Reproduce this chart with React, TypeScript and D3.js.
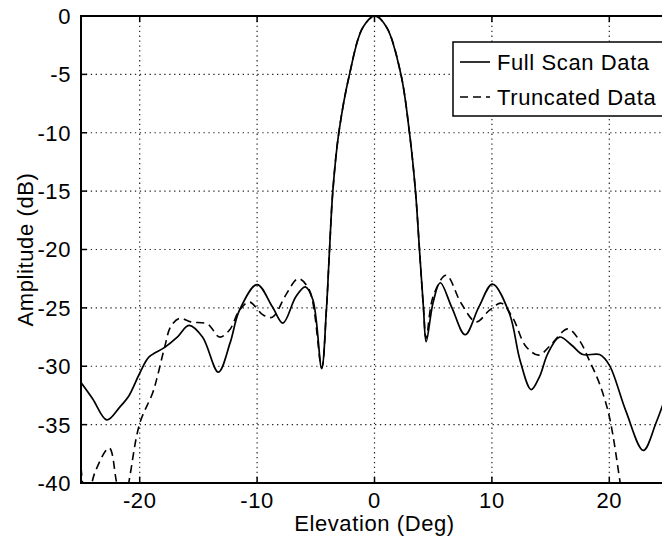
import React from 'react';
import * as d3 from 'd3';

// elevation (deg) / amplitude (dB)
const fullScanElev = [
  -25, -24, -22.8, -21.7, -20.9, -20.0, -19.2, -17.9, -16.8, -15.8, -14.65, -13.3,
  -12.3, -11.5, -10.0, -8.7, -7.8, -6.7, -5.9, -5.25, -4.5, -4.1, -3.83, -3.55,
  -3.04, -2.13, -1.0, 0.05, 1.05, 2.25, 2.98, 3.49, 3.83, 4.17, 4.4, 5.0, 5.6,
  6.6, 7.72, 8.9, 10.05, 11.5, 12.4, 13.35, 14.05, 14.77, 15.76, 16.8, 17.75,
  19.17, 20.0, 21.4, 22.9, 24.0, 25,
];
const fullScanAmp = [
  -31.4, -32.8, -34.6, -33.5, -32.5, -30.6, -29.2, -28.4, -27.5, -26.5, -27.5, -30.5,
  -28.0, -25.2, -23.0, -24.9, -26.3, -24.05, -23.2, -24.3, -30.2, -25.2, -20, -15,
  -10, -5, -1.0, 0, -1.0, -5, -10, -15, -20, -25, -27.9, -24.5, -22.85,
  -25.0, -27.3, -24.9, -22.96, -25.5, -29.5, -32.0, -30.9, -28.9, -27.5, -28.2, -29.0,
  -29.0, -29.9, -33.8, -37.2, -34.8, -32.0,
];

const truncElev = [
  -25, -24.5, -23.85, -22.6, -22.0, -21.5, -20.9, -20.0, -18.9, -18.5, -17.86, -17.35,
  -16.6, -15.65, -14.2, -13.2, -12.35, -11.5, -10.65, -9.5, -8.7, -7.5, -6.5, -5.54,
  -4.5, -4.1, -3.83, -3.55, -3.04, -2.13, -1.0, 0.05, 1.05, 2.25, 2.98, 3.49, 3.83,
  4.17, 4.4, 5.0, 6.1, 7.38, 8.66, 9.8, 10.8, 11.8, 12.9, 14.0, 14.9, 16.47, 17.46,
  18.3, 19.17, 20.0, 20.9, 21.5, 22.5,
];
const truncAmp = [
  -38.7, -42, -39.2, -37.0, -39.8, -43, -39.8, -34.9, -32.3, -30.9, -28.3, -26.6,
  -25.9, -26.2, -26.4, -27.5, -26.9, -25.2, -24.5, -25.6, -25.8, -23.8, -22.5, -23.5,
  -30.1, -25.2, -20, -15, -10, -5, -1.0, 0, -1.0, -5, -10, -15, -20,
  -25, -27.6, -24.0, -22.2, -24.6, -26.2, -25.2, -24.6, -25.9, -28.3, -29.05, -28.3, -26.8, -27.8,
  -29.5, -31.5, -34.3, -39.8, -44, -50,
];

const elevTicks = [-20, -10, 0, 10, 20];
const ampTicks = [0, -5, -10, -15, -20, -25, -30, -35, -40];
const legendLabels = ['Full Scan Data', 'Truncated Data'];

const FONT = '"Liberation Sans", Arial, Helvetica, sans-serif';
const DASH = '8,5';

export default function App() {
  const W = 662;
  const H = 541;
  const left = 81;
  const right = 668; // right border sits just past the cropped edge
  const top = 16;
  const bottom = 483;

  const x = d3.scaleLinear().domain([-25, 25]).range([left, right]);
  const y = d3.scaleLinear().domain([-40, 0]).range([bottom, top]);

  const line = d3
    .line<[number, number]>()
    .x((d) => x(d[0]))
    .y((d) => y(d[1]))
    .curve(d3.curveCatmullRom.alpha(0.5));

  const fullPts = fullScanElev.map((e, i) => [e, fullScanAmp[i]] as [number, number]);
  const truncPts = truncElev.map((e, i) => [e, truncAmp[i]] as [number, number]);

  const tickLen = 6;

  return (
    <svg
      width={W}
      height={H}
      style={{ position: 'absolute', left: 0, top: 0, background: '#fff' }}
      fontFamily={FONT}
      letterSpacing={0.6}
    >
      <defs>
        <clipPath id="plot-clip">
          <rect x={left} y={top} width={right - left} height={bottom - top} />
        </clipPath>
      </defs>

      {/* dotted grid */}
      <g stroke="#222" strokeWidth={1.2} strokeDasharray="1.3,3.6">
        {elevTicks.map((t) => (
          <line key={`gx${t}`} x1={x(t)} x2={x(t)} y1={top} y2={bottom} />
        ))}
        {ampTicks
          .filter((t) => t !== 0 && t !== -40)
          .map((t) => (
            <line key={`gy${t}`} x1={left} x2={right} y1={y(t)} y2={y(t)} />
          ))}
      </g>

      {/* curves */}
      <g clipPath="url(#plot-clip)" fill="none" stroke="#000">
        <path d={line(truncPts) ?? ''} strokeWidth={1.6} strokeDasharray={DASH} />
        <path d={line(fullPts) ?? ''} strokeWidth={1.7} />
      </g>

      {/* box + inward ticks */}
      <rect
        x={left}
        y={top}
        width={right - left}
        height={bottom - top}
        fill="none"
        stroke="#000"
        strokeWidth={2}
      />
      <g stroke="#000" strokeWidth={1.5}>
        {elevTicks.map((t) => (
          <g key={`tx${t}`}>
            <line x1={x(t)} x2={x(t)} y1={bottom} y2={bottom - tickLen} />
            <line x1={x(t)} x2={x(t)} y1={top} y2={top + tickLen} />
          </g>
        ))}
        {ampTicks.map((t) => (
          <line key={`ty${t}`} x1={left} x2={left + tickLen} y1={y(t)} y2={y(t)} />
        ))}
      </g>

      {/* tick labels */}
      <g fontSize={22} fill="#000">
        {elevTicks.map((t) => (
          <text key={`lx${t}`} x={x(t)} y={508} textAnchor="middle">
            {t}
          </text>
        ))}
        {ampTicks.map((t) => (
          <text key={`ly${t}`} x={71} y={y(t)} dy="0.36em" textAnchor="end">
            {t}
          </text>
        ))}
      </g>

      {/* axis titles */}
      <text x={(left + right) / 2} y={531} textAnchor="middle" fontSize={22}>
        Elevation (Deg)
      </text>
      <text
        transform={`translate(33,${(top + bottom) / 2}) rotate(-90)`}
        textAnchor="middle"
        fontSize={22}
      >
        Amplitude (dB)
      </text>

      {/* legend */}
      <g>
        <rect x={453} y={42} width={220} height={74} fill="#fff" stroke="#000" strokeWidth={1.5} />
        {legendLabels.map((label, i) => (
          <g key={label} transform={`translate(0,${62 + i * 35})`}>
            <line
              x1={460}
              x2={490}
              y1={0}
              y2={0}
              stroke="#000"
              strokeWidth={1.6}
              strokeDasharray={i === 1 ? DASH : undefined}
            />
            <text x={497} y={0} dy="0.36em" fontSize={22}>
              {label}
            </text>
          </g>
        ))}
      </g>
    </svg>
  );
}
